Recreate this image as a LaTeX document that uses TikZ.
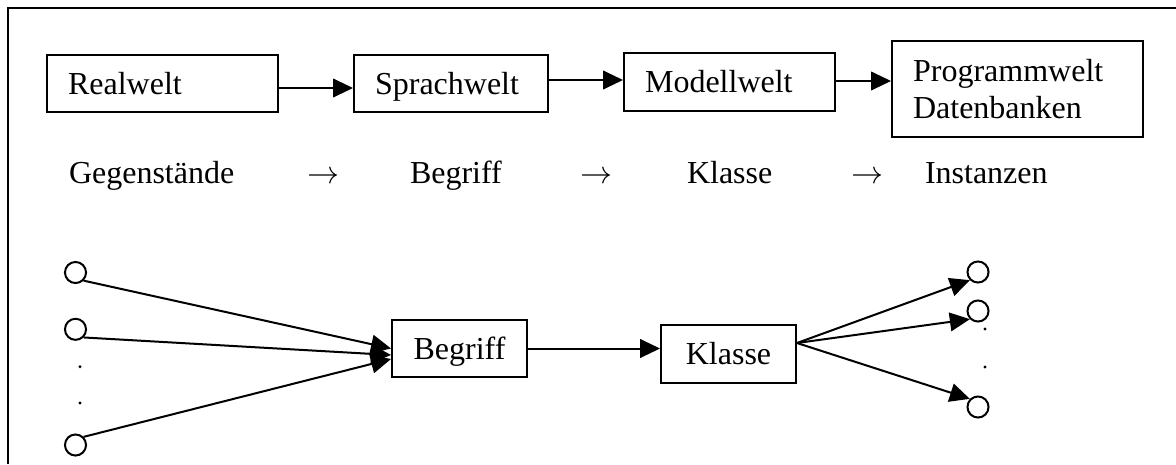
\documentclass[tikz,border=0pt]{standalone}
\usepackage{fontspec}
\setmainfont{Liberation Serif}
\usetikzlibrary{arrows.meta}

\tikzset{
  welt/.style={draw, anchor=west, minimum height=21.4pt, inner xsep=7.9pt, inner ysep=0pt, align=left},
  zeile/.style={text height=9pt, text depth=1.1pt},
  kasten/.style={draw, minimum width=50.6pt, minimum height=21.4pt, zeile},
  wort/.style={anchor=base west, inner sep=0pt},
  kreis/.style={draw, circle, minimum size=7.9pt, inner sep=0pt}
}

\begin{document}
\begin{tikzpicture}[x=0.375pt, y=-0.375pt, line width=0.75pt,
  >={Triangle[length=7.5pt, width=7pt]}, font=\fontsize{12}{13.9}\selectfont]
\useasboundingbox (0,0) rectangle (1176,464);
%Rahmen
\draw (8,464) -- (8,8) -- (1176,8);

%Welten
\node[welt, zeile, text width=70.9pt] (real) at (46,83.5) {Realwelt};
\node[welt, zeile, text width=57pt] (sprach) at (353,83.5) {Sprachwelt};
\node[welt, zeile, text width=63.4pt] (modell) at (623,82) {Modellwelt};
\node[welt, text width=78.4pt, minimum height=36pt] (prog) at (891,89) {Programmwelt\\Datenbanken};
\draw[->] (real.east |- 0,88) -- (sprach.west |- 0,88);
\draw[->] (sprach.east |- 0,80) -- (modell.west |- 0,80);
\draw[->] (modell.east |- 0,81) -- (prog.west |- 0,81);

%Zeile
\node[wort] (gegen) at (68,183) {Gegenstände};
\node[wort] (pf1) at (306,183) {$\rightarrow$};
\node[wort] (begr) at (409,183) {Begriff};
\node[wort] (pf2) at (579,183) {$\rightarrow$};
\node[wort] (klas) at (686,183) {Klasse};
\node[wort] (pf3) at (850,183) {$\rightarrow$};
\node[wort] (inst) at (924,183) {Instanzen};

%Gegenstaende -> Begriff -> Klasse -> Instanzen
\node[kasten] (begriff) at (459.5,348.5) {Begriff};
\node[kasten] (klasse) at (728.5,354) {Klasse};

\node[kreis] (l1) at (75.5,272.5) {};
\node[kreis] (l2) at (75.5,329.3) {};
\node[kreis] (l3) at (75.5,445) {};
\node[kreis] (r1) at (978,272) {};
\node[kreis] (r2) at (978,311) {};
\node[kreis] (r3) at (978,407) {};
\foreach \x/\y in {80/366.7, 80/403, 985/329, 985/367} {
  \fill (\x,\y) circle (0.6pt);
}

\draw[->] (l1.south east) -- (begriff.west);
\draw[->] (l2.south east) -- (begriff.west |- 0,355);
\draw[->] (l3.north east) -- (begriff.west |- 0,359);
\draw[->] (begriff.east) -- (klasse.west |- begriff.east);
\draw[->] (klasse.east |- 0,343) -- (r1.south west);
\draw[->] (klasse.east |- 0,343) -- (r2.south west);
\draw[->] (klasse.east |- 0,343) -- (r3.north west);
\end{tikzpicture}
\end{document}
